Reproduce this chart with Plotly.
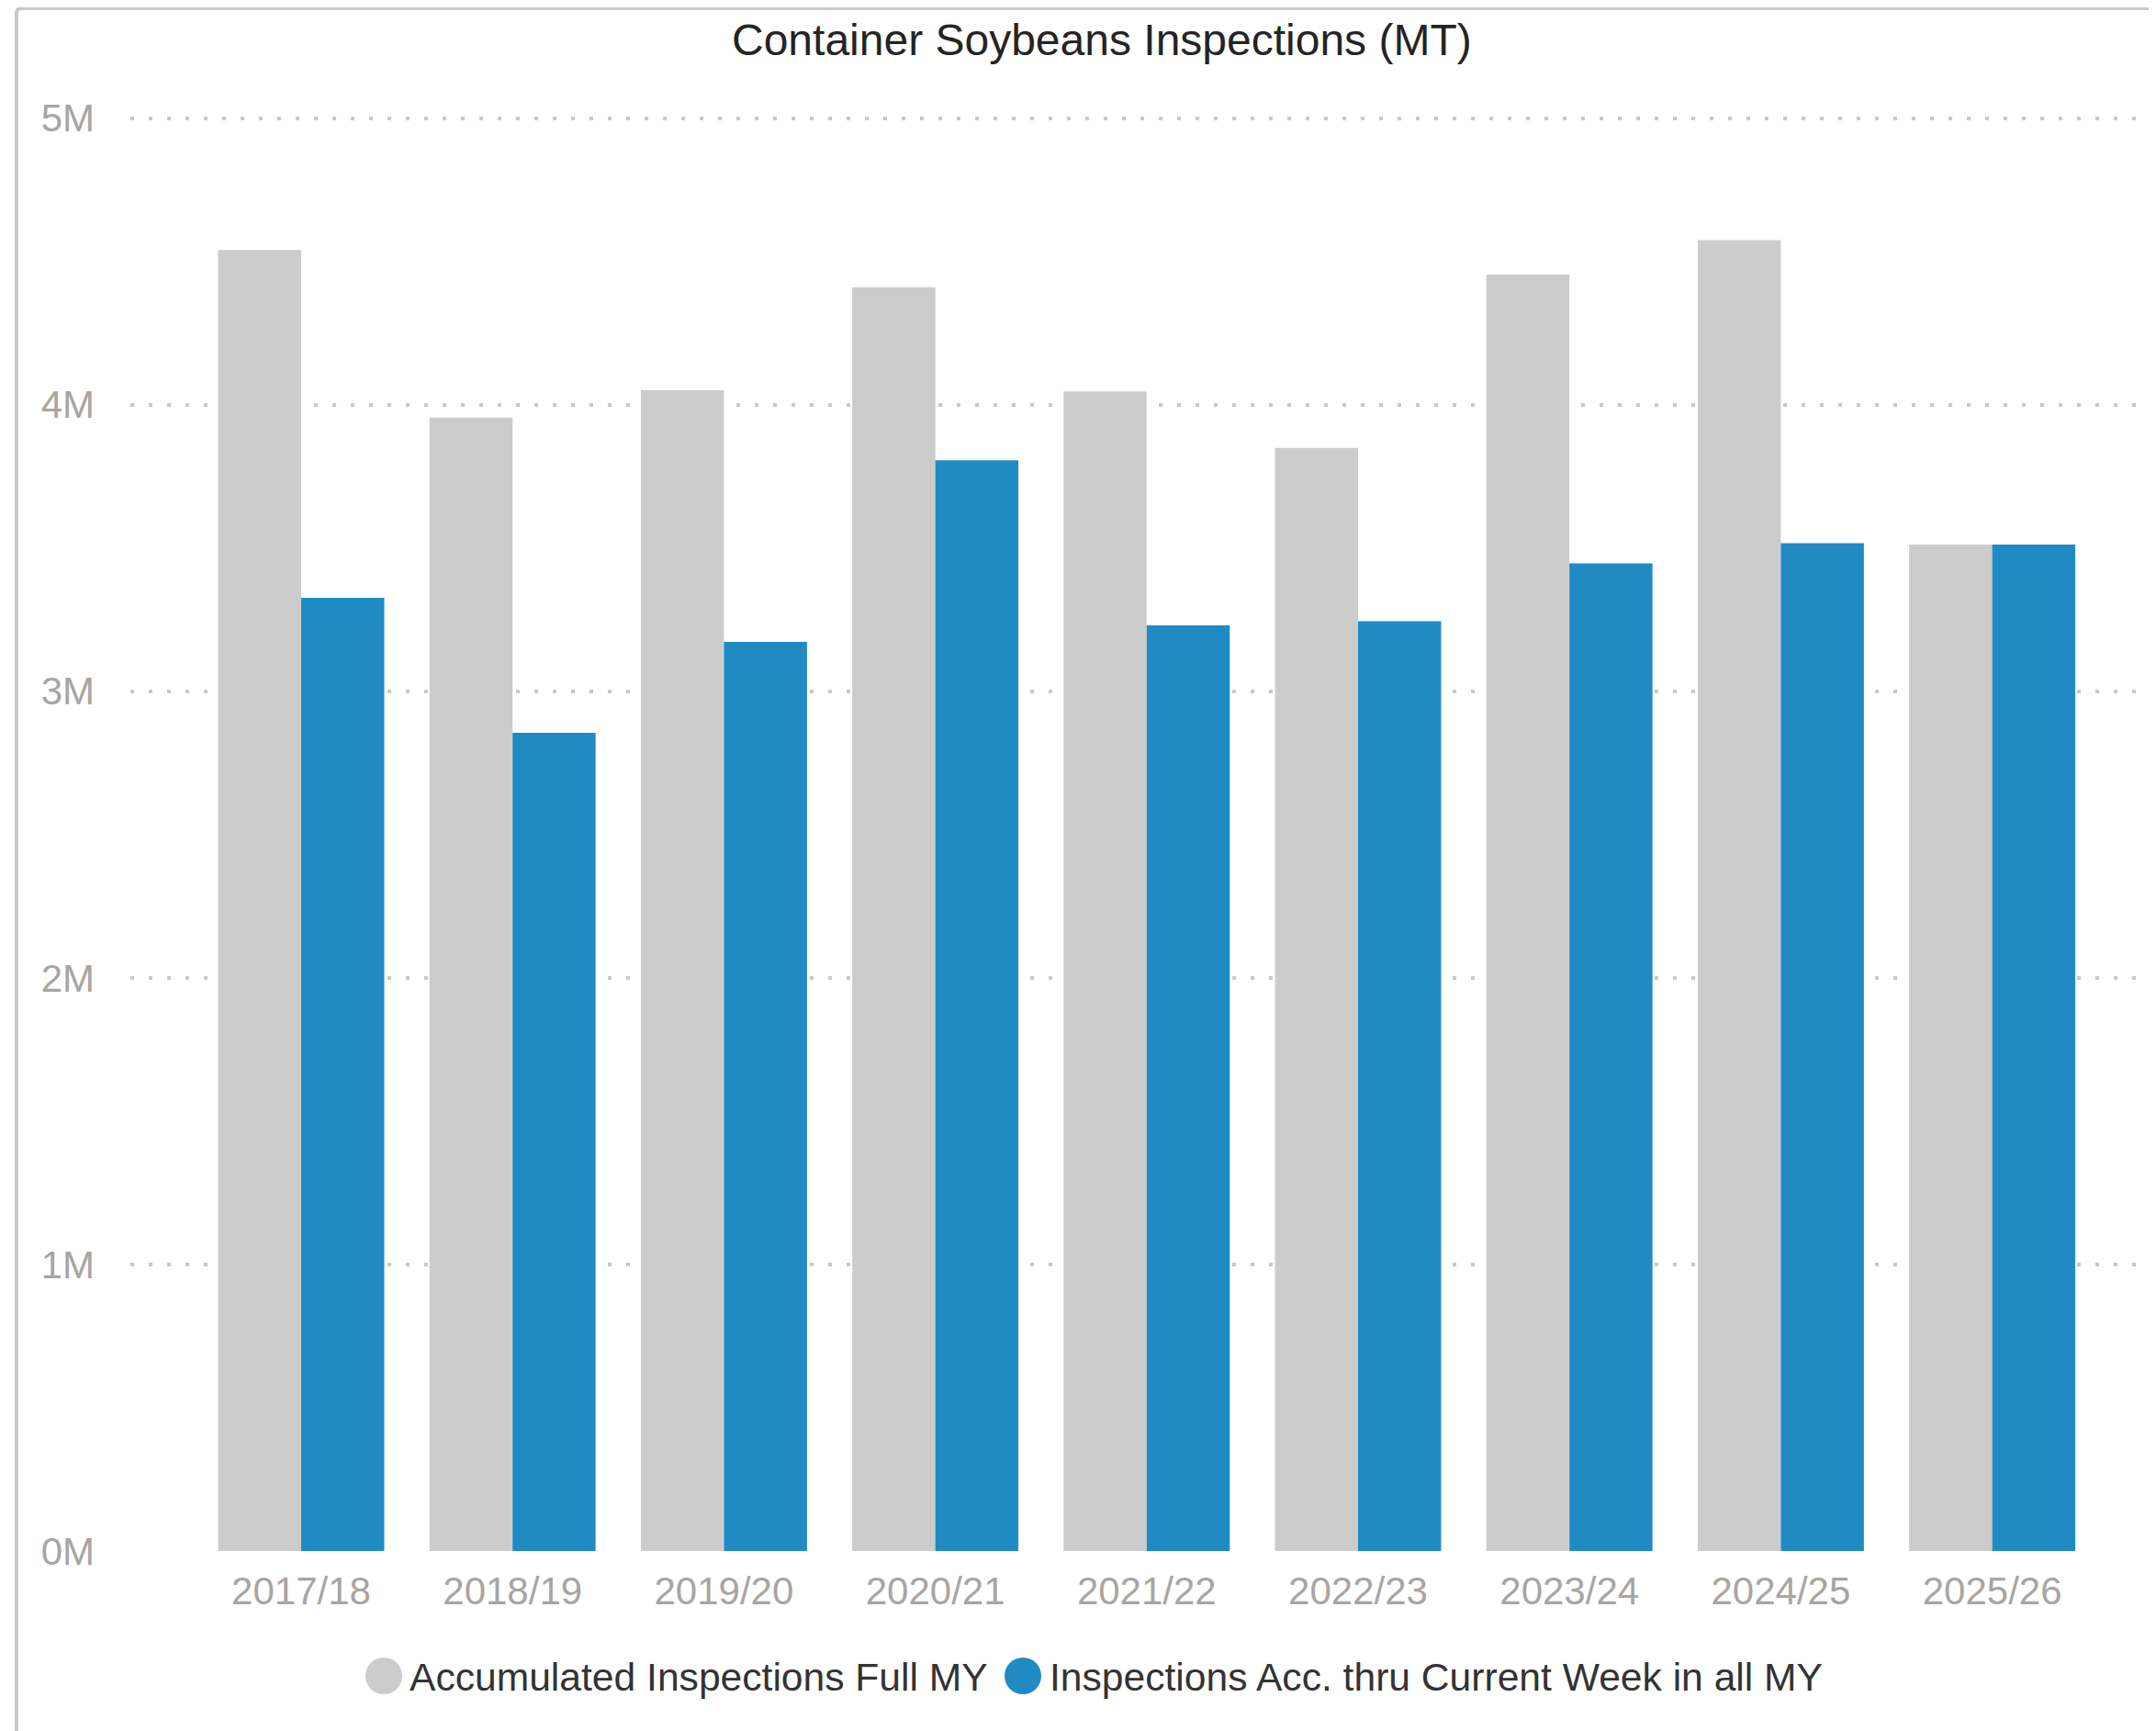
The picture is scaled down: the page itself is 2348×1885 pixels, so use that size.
import plotly.graph_objects as go

# ---- data ----
marketing_years = ["2017/18", "2018/19", "2019/20", "2020/21", "2021/22",
                   "2022/23", "2023/24", "2024/25", "2025/26"]
accumulated_full_my = [4540000, 3955000, 4050000, 4410000, 4046000,
                       3849000, 4454000, 4574000, 3512000]
acc_thru_current_week = [3326000, 2855000, 3172000, 3806000, 3230000,
                         3244000, 3446000, 3517000, 3512000]
y_tick_values = [0, 1000000, 2000000, 3000000, 4000000, 5000000]
y_tick_labels = ["0M", "1M", "2M", "3M", "4M", "5M"]
series_names = ["Accumulated Inspections Full MY",
                "Inspections Acc. thru Current Week in all MY"]
series_colors = ["#CCCCCC", "#208BC2"]

# ---- geometry (pixels) ----
OFF = 8  # page body margin
W, H = 2348 - OFF, 1885 - OFF
L, R, T, B = 142 - OFF, 0, 105, H - (1689 - OFF)
PW, PH = W - L - R, H - T - B
FONT = "Liberation Sans, Arial, sans-serif"


def px(x):
    # x in screenshot pixels -> paper
    return (x - OFF - L) / PW


def py(y):
    # y in screenshot pixels -> paper
    return (H - B - (y - OFF)) / PH


fig = go.Figure()
fig.add_trace(go.Bar(x=marketing_years, y=accumulated_full_my, name=series_names[0],
                     marker=dict(color=series_colors[0], line=dict(width=0)),
                     showlegend=False))
fig.add_trace(go.Bar(x=marketing_years, y=acc_thru_current_week, name=series_names[1],
                     marker=dict(color=series_colors[1], line=dict(width=0)),
                     showlegend=False))

shapes = []
# frame (light grey border, top and left visible)
shapes.append(dict(type="path", xref="paper", yref="paper",
                   path=f"M {px(18)},{py(1900)} L {px(18)},{py(15)} "
                        f"Q {px(18)},{py(9)} {px(24)},{py(9)} L {px(2360)},{py(9)}",
                   line=dict(color="#C8C8C8", width=4), layer="above"))

# manual legend with circle markers
legend_items = [(418, 444), (1114, 1141)]
annotations = []
for (cx, tx), name, col in zip(legend_items, series_names, series_colors):
    shapes.append(dict(type="circle", xref="paper", yref="paper",
                       x0=px(cx - 20), x1=px(cx + 20), y0=py(1845), y1=py(1805),
                       fillcolor=col, line=dict(width=0)))
    annotations.append(dict(text=name, xref="paper", yref="paper",
                            x=px(tx), y=py(1826), xanchor="left", yanchor="middle",
                            showarrow=False, font=dict(family=FONT, size=42.6, color="#333333")))

# title
annotations.append(dict(text="Container Soybeans Inspections (MT)", xref="paper", yref="paper",
                        x=px(1200), y=py(43), xanchor="center", yanchor="middle",
                        showarrow=False, font=dict(family=FONT, size=48, color="#252423")))

fig.update_layout(
    width=W, height=H,
    margin=dict(l=L, r=R, t=T, b=B, pad=0),
    paper_bgcolor="white", plot_bgcolor="white",
    barmode="group", bargap=0.214, bargroupgap=0,
    showlegend=False,
    shapes=shapes, annotations=annotations,
    font=dict(family=FONT),
)
cat_step = 230.2
first_center = 328 - OFF
fig.update_xaxes(
    type="category",
    range=[(L - first_center) / cat_step, (W - first_center) / cat_step],
    showgrid=False, zeroline=False, showline=False,
    ticks="", ticklabelstandoff=15,
    tickfont=dict(family=FONT, size=42, color="#A8A5A2"),
)
fig.update_yaxes(
    range=[0, 5050000],
    tickvals=y_tick_values, ticktext=y_tick_labels,
    showgrid=True, gridcolor="#C8C8C8", gridwidth=4, griddash="4px,16px",
    zeroline=False, showline=False, ticks="", ticklabelstandoff=38,
    tickfont=dict(family=FONT, size=42, color="#A8A5A2"),
)

fig.write_html("out.html")
